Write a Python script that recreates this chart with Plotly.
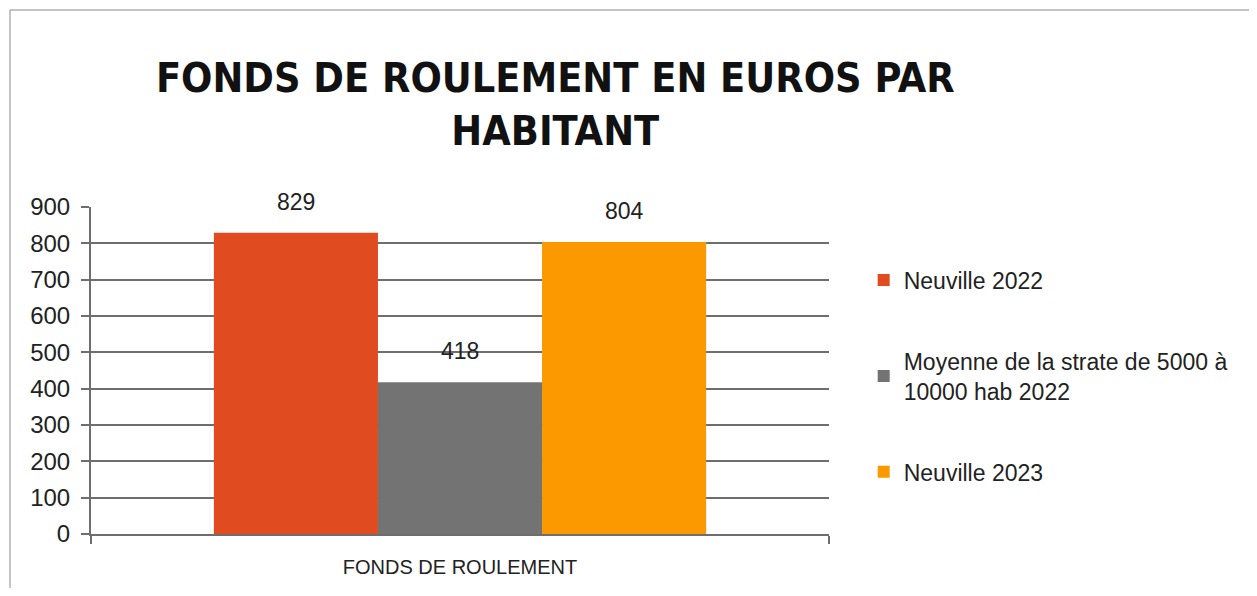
import plotly.graph_objects as go

category = ["FONDS DE ROULEMENT"]
series_names = ["Neuville 2022", "Moyenne de la strate de 5000 à<br>10000 hab 2022", "Neuville 2023"]
series_values = [[829], [418], [804]]
colors = ["#E04B1F", "#737373", "#FC9800"]
title_text = "FONDS DE ROULEMENT EN EUROS PAR<br>HABITANT"

FONT = "Liberation Sans, Arial, sans-serif"
TFONT = "DejaVu Sans Condensed, Liberation Sans, sans-serif"

# page body has an 8px margin; figure sized so it fits the 1257x596 window
W, H = 1241, 580
fig = go.Figure()
for i, (name, vals, col) in enumerate(zip(series_names, series_values, colors)):
    fig.add_trace(go.Bar(x=category, y=vals, name=name, marker=dict(color=col, line=dict(width=0)),
                         legendgroup=f"g{i}"))

n = len(series_values)
bar_px = 164
for i, vals in enumerate(series_values):
    fig.add_annotation(x=category[0], y=vals[0], text=str(vals[0]), showarrow=False,
                       xshift=(i - (n - 1) / 2) * bar_px, yshift=31,
                       font=dict(family=FONT, size=23, color="#222"))

fig.update_layout(
    width=W, height=H,
    paper_bgcolor="white", plot_bgcolor="white",
    margin=dict(l=83, r=420, t=199, b=54, autoexpand=False),
    barmode="group", bargap=0.333, bargroupgap=0,
    title=dict(text="<b>" + title_text + "</b>", x=0.441, xanchor="center", y=0.855, yanchor="middle",
               font=dict(family=TFONT, size=41, color="#111")),
    showlegend=True,
    legend=dict(x=1.047, y=0.842, xanchor="left", yanchor="top", tracegroupgap=48,
                font=dict(family=FONT, size=23, color="#222"), itemwidth=30,
                bgcolor="rgba(0,0,0,0)"),
    font=dict(family=FONT, color="#222"),
)
fig.update_yaxes(range=[0, 900], dtick=100, showgrid=True, gridcolor="#6e6e6e", gridwidth=2,
                 showline=True, linecolor="#6e6e6e", linewidth=2, ticks="outside", ticklen=8,
                 tickcolor="#6e6e6e", tickwidth=2, tickfont=dict(family=FONT, size=24, color="#222"),
                 ticklabelstandoff=6, zeroline=False)
fig.update_xaxes(showline=True, linecolor="#6e6e6e", linewidth=2, ticks="outside", ticklen=8,
                 tickson="boundaries", tickcolor="#6e6e6e", tickwidth=2, ticklabelstandoff=14,
                 tickfont=dict(family=FONT, size=20, color="#222"))

# frame border of the original image
fig.add_shape(type="line", xref="paper", yref="paper", x0=(10 - 91) / 738, x1=(1257 - 91) / 738,
              y0=(534 - 10) / 327, y1=(534 - 10) / 327, line=dict(color="#8a8a8a", width=1))
fig.add_shape(type="line", xref="paper", yref="paper", x0=(10 - 91) / 738, x1=(10 - 91) / 738,
              y0=(534 - 10) / 327, y1=(534 - 600) / 327, line=dict(color="#8a8a8a", width=1))

fig.write_html("out.html")
